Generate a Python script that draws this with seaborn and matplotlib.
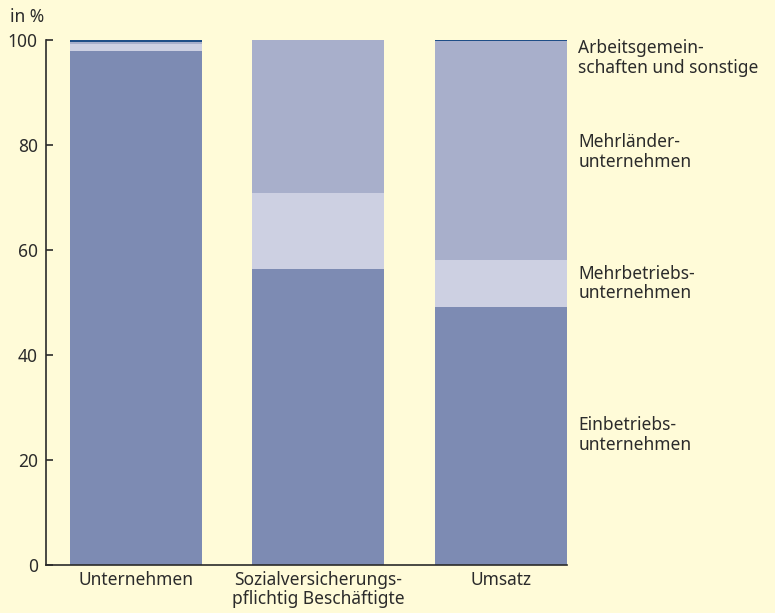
import pandas as pd
import seaborn as sns
import matplotlib.pyplot as plt
import numpy as np

# Anteile in %
kategorien = ['Unternehmen', 'Sozialversicherungs-\npflichtig Beschäftigte', 'Umsatz']
einbetriebs = [97.9, 56.4, 49.2]
mehrbetriebs = [1.4, 14.5, 8.9]
mehrlaender = [0.4, 29.1, 41.7]
arbeitsgemein = [0.3, 0.0, 0.2]

serien = ['Einbetriebs-\nunternehmen', 'Mehrbetriebs-\nunternehmen',
          'Mehrländer-\nunternehmen', 'Arbeitsgemein-\nschaften und sonstige']
farben = ['#7d8bb3', '#cdd0e2', '#a8afcb', '#1f4e87']
label_y = [24.8, 53.6, 78.7, 96.6]

bg = '#fffbd8'
txt = '#2b2b2b'

sns.set_style('ticks')
plt.rcParams['font.family'] = ['Noto Sans', 'DejaVu Sans']
plt.rcParams['text.color'] = txt
plt.rcParams['xtick.color'] = txt
plt.rcParams['ytick.color'] = txt

df = pd.DataFrame({'Kategorie': kategorien,
                   's1': einbetriebs, 's2': mehrbetriebs,
                   's3': mehrlaender, 's4': arbeitsgemein})
# kumulierte Werte fuer gestapelte Balken
df['c1'] = df['s1']
df['c2'] = df['c1'] + df['s2']
df['c3'] = df['c2'] + df['s3']
df['c4'] = df['c3'] + df['s4']

f, ax = plt.subplots(1, 1, figsize=(7.75, 6.13), dpi=100)
f.patch.set_facecolor(bg)
ax.set_facecolor(bg)

for col, farbe in zip(['c4', 'c3', 'c2', 'c1'], farben[::-1]):
    sns.barplot(data=df, x='Kategorie', y=col, color=farbe, width=0.723,
                saturation=1, ax=ax, linewidth=0)

ax.set_position([46/775, 48/613, 521/775, 525/613])
ax.set_xlim(-0.493, 2.362)
ax.set_ylim(0, 100)
ax.set_yticks([0, 20, 40, 60, 80, 100])
ax.set(xlabel=None, ylabel=None)
ax.tick_params(axis='x', length=0, labelsize=12.5, pad=4)
ax.tick_params(axis='y', direction='in', length=5, width=1.2, labelsize=12.5, pad=6)
for lab in ax.get_xticklabels():
    lab.set_linespacing(1.12)
    lab.set_verticalalignment('top')
ax.spines['left'].set_linewidth(1.2)
ax.spines['bottom'].set_linewidth(1.2)
ax.spines['left'].set_color(txt)
ax.spines['bottom'].set_color(txt)
sns.despine(ax=ax)

for name, y in zip(serien, label_y):
    ax.text(2.425, y, name, ha='left', va='center', fontsize=12.5,
            linespacing=1.1, transform=ax.transData, clip_on=False)

f.text(10/775, 1 - 17/613, 'in %', ha='left', va='center', fontsize=12.5)

f.savefig('out.png', facecolor=bg)
